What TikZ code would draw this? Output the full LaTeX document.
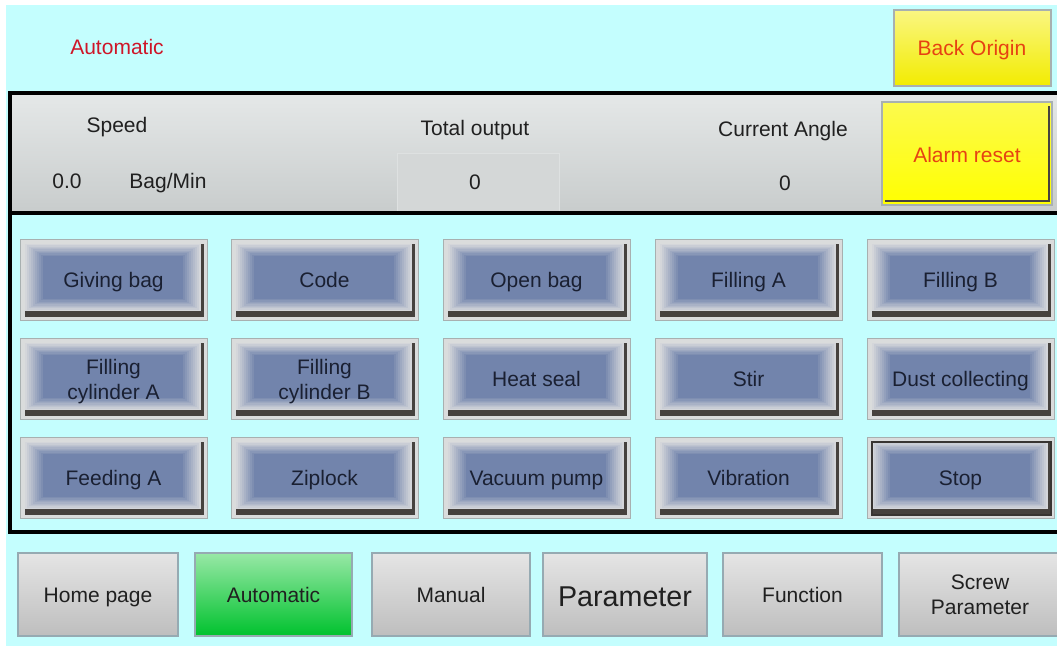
\documentclass[tikz,border=0pt]{standalone}
\usepackage{fontspec}
\setmainfont{Liberation Sans}

\definecolor{screen}{RGB}{196,254,254}
\definecolor{paneltop}{RGB}{229,232,232}
\definecolor{panelbot}{RGB}{200,204,204}
\definecolor{boxfill}{RGB}{212,215,215}
\definecolor{boxline}{RGB}{222,225,225}
\definecolor{modered}{RGB}{206,22,40}
\definecolor{warnred}{RGB}{230,66,18}
\definecolor{frame}{RGB}{218,220,220}
\definecolor{frameline}{RGB}{168,176,176}
\definecolor{btnedge}{RGB}{212,214,218}
\definecolor{btncore}{RGB}{114,132,172}
\definecolor{btnshade}{RGB}{70,66,62}
\definecolor{navtop}{RGB}{229,229,229}
\definecolor{navbot}{RGB}{190,190,190}
\definecolor{navline}{RGB}{150,170,178}
\definecolor{greentop}{RGB}{152,232,166}
\definecolor{greenbot}{RGB}{0,194,46}
\definecolor{yellowtop}{RGB}{250,246,130}
\definecolor{yellowbot}{RGB}{242,236,0}
\definecolor{ink}{RGB}{32,32,32}
\definecolor{btnink}{RGB}{26,32,50}

% bevelled blue push button inside a light frame
\newcommand\gridframe[4]{%
  \fill[frame, draw=frameline, line width=0.75pt] (#1,#2) rectangle (#3,#4);
  \fill[btnshade] (#1+5,#2+5) rectangle (#3-3,#4-3);
  \foreach \i in {0,...,9}{%
    \pgfmathtruncatemacro\p{100*\i/9}%
    \fill[btncore!\p!btnedge] (#1+5+2.0*\i,#2+5+1.35*\i) rectangle (#3-6-2.0*\i,#4-9-1.35*\i);
  }%
}
\newcommand\gridbutton[6]{%
  \gridframe{#2}{#3}{#4}{#5}%
  \node[gridtext, anchor=base] (#1) at ({(#2+#4)/2},{#3+48}) {#6};
}
\newcommand\gridbuttontwo[6]{%
  \gridframe{#2}{#3}{#4}{#5}%
  \node[gridtext] (#1) at ({(#2+#4)/2},{(#3+#5)/2+3}) {#6};
}

% flat navigation tab at the bottom of the screen
\newcommand\navbutton[7]{%
  \path[#6, draw=navline, line width=0.9pt] (#2,#3) rectangle (#4,#5);
  \node[navtext, anchor=base] (#1) at ({(#2+#4)/2},602) {#7};
}

\begin{document}
\begin{tikzpicture}[x=0.75pt, y=-0.75pt,
  every node/.style={inner sep=0pt, align=center,
    font=\fontsize{15.75}{18.5}\selectfont},
  label/.style={text=ink, anchor=base},
  gridtext/.style={text=btnink},
  navtext/.style={text=ink},
  graytab/.style={top color=navtop, bottom color=navbot},
  greentab/.style={top color=greentop, bottom color=greenbot},
  panelline/.style={draw=black, line width=2.4pt}]

\useasboundingbox (0,0) rectangle (1057,646);
\clip (0,0) rectangle (1057,646);

% screen background
\fill[white] (0,0) rectangle (1057,646);
\fill[screen] (6,5) rectangle (1060,650);

% header line
\node[text=modered, anchor=base] (mode) at (117,54) {Automatic};
\path[top color=yellowtop, bottom color=yellowbot, draw=frameline, line width=0.9pt]
  (894,10) rectangle (1051,86);
\node[text=warnred, anchor=base] (origin) at (972,55) {Back Origin};

% status panel
\fill[top color=paneltop, bottom color=panelbot] (10,93) rectangle (1062,213);
\node[label] (speed) at (117,132) {Speed};
\node[label] (speedval) at (67,188) {0.0};
\node[label] (speedunit) at (168,188) {Bag/Min};
\node[label] (total) at (475,135) {Total output};
\fill[boxfill, draw=boxline, line width=0.75pt] (397,153) rectangle (559,212);
\node[label] (totalval) at (475,189) {0};
\node[label] (angle) at (783,136) {Current Angle};
\node[label] (angleval) at (785,190) {0};
\path[top color=yellowtop!60!yellow, bottom color=yellow, draw=frameline, line width=0.9pt]
  (882,102) rectangle (1052,205);
\draw[btnshade, line width=1.8pt] (885,201) -- (1049,201) -- (1049,106);
\node[text=warnred, anchor=base] (alarm) at (967,162) {Alarm reset};
\draw[panelline] (10,93) rectangle (1062,213);

% output buttons
\gridbutton{givebag}{20}{239}{207}{320}{Giving bag}
\gridbutton{code}{231}{239}{418}{320}{Code}
\gridbutton{openbag}{443}{239}{630}{320}{Open bag}
\gridbutton{fillA}{655}{239}{842}{320}{Filling A}
\gridbutton{fillB}{867}{239}{1054}{320}{Filling B}
\gridbuttontwo{cylA}{20}{338}{207}{419}{Filling\\cylinder A}
\gridbuttontwo{cylB}{231}{338}{418}{419}{Filling\\cylinder B}
\gridbutton{heat}{443}{338}{630}{419}{Heat seal}
\gridbutton{stir}{655}{338}{842}{419}{Stir}
\gridbutton{dust}{867}{338}{1054}{419}{Dust collecting}
\gridbutton{feedA}{20}{437}{207}{518}{Feeding A}
\gridbutton{ziplock}{231}{437}{418}{518}{Ziplock}
\gridbutton{vacuum}{443}{437}{630}{518}{Vacuum pump}
\gridbutton{vibra}{655}{437}{842}{518}{Vibration}
\gridbutton{stop}{867}{437}{1054}{518}{Stop}
\draw[btnshade!80!black, line width=0.9pt] (872,442) rectangle (1051,515);
\draw[panelline] (10,213) rectangle (1062,532);

% navigation tabs
\navbutton{home}{18}{553}{178}{636}{graytab}{Home page}
\navbutton{auto}{195}{553}{352}{636}{greentab}{Automatic}
\navbutton{manual}{372}{553}{530}{636}{graytab}{Manual}
\path[graytab, draw=navline, line width=0.9pt] (543,553) rectangle (707,636);
\node[navtext, anchor=base, font=\fontsize{21.5}{24}\selectfont] (param) at (625,606) {Parameter};
\navbutton{func}{723}{553}{882}{636}{graytab}{Function}
\path[graytab, draw=navline, line width=0.9pt] (899,553) rectangle (1062,636);
\node[navtext] (screw) at (980,595) {Screw\\Parameter};
\end{tikzpicture}
\end{document}
